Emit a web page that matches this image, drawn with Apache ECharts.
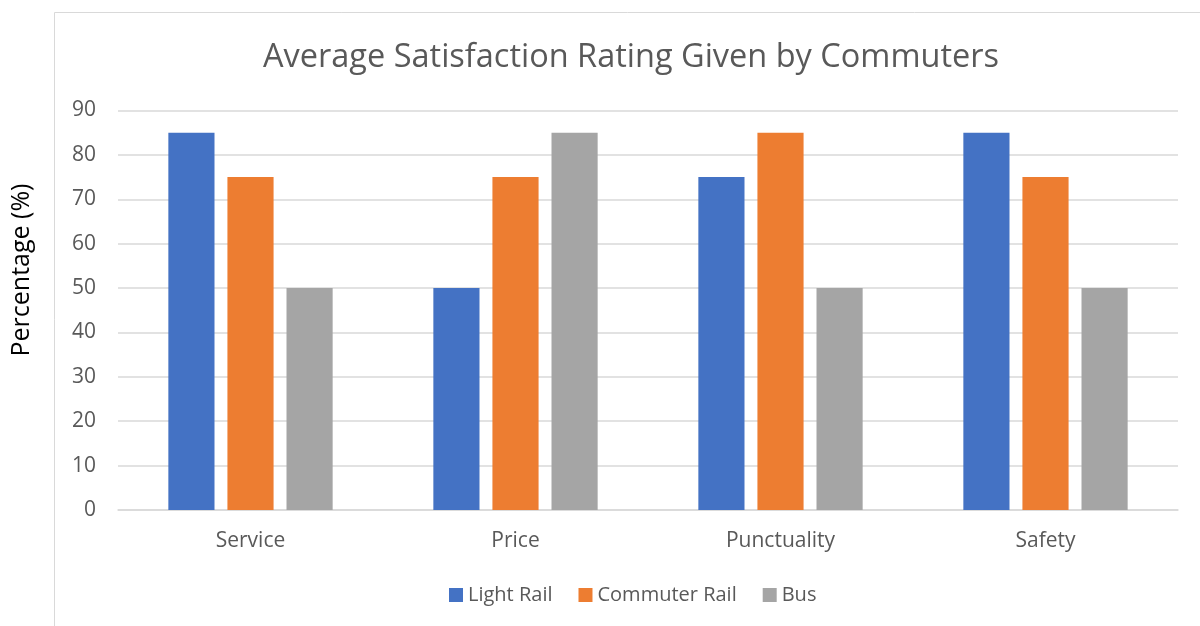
<!DOCTYPE html>
<html><head><meta charset="utf-8">
<script src="https://cdn.jsdelivr.net/npm/echarts@6/dist/echarts.min.js"></script>
<style>html,body{margin:0;padding:0;background:#fff}#c{width:1200px;height:626px}</style>
</head><body><div id="c"></div>
<script>
var categories = ['Service', 'Price', 'Punctuality', 'Safety'];
var lightRail = [85, 50, 75, 85];
var commuterRail = [75, 75, 85, 75];
var bus = [50, 85, 50, 50];
var seriesNames = ['Light Rail', 'Commuter Rail', 'Bus'];
var colors = ['#4472C4', '#ED7D31', '#A5A5A5'];
var font = '"Open Sans", "Noto Sans", sans-serif';
var chart = echarts.init(document.getElementById('c'), null, {renderer: 'canvas'});
function s(name, data, i) {
  return {name: name, type: 'bar', data: data, itemStyle: {color: colors[i]},
    barGap: '28%', barCategoryGap: '38%'};
}
chart.setOption({
  animation: false,
  graphic: [
    {type: 'rect', shape: {x: 54.5, y: 12.5, width: 1200, height: 700},
      style: {fill: 'none', stroke: '#d9d9d9', lineWidth: 1}, silent: true},
    {type: 'text', x: 22, y: 270, rotation: Math.PI / 2,
      style: {text: 'Percentage (%)', fontFamily: font, fontSize: 25, fill: '#000',
        textAlign: 'center', textVerticalAlign: 'middle'}, silent: true}
  ],
  title: {text: 'Average Satisfaction Rating Given by Commuters', left: 630, textAlign: 'center', top: 36,
    textStyle: {fontFamily: font, fontSize: 32.5, fontWeight: 'normal', color: '#595959'}},
  legend: {data: seriesNames, bottom: 16, left: 444, itemWidth: 14, itemHeight: 14, itemGap: 26,
    icon: 'rect', textStyle: {fontFamily: font, fontSize: 20, color: '#595959'}},
  grid: {left: 118, right: 22, top: 110.5, bottom: 116},
  xAxis: {type: 'category', data: categories,
    axisLine: {lineStyle: {color: '#d9d9d9', width: 1.5}}, axisTick: {show: false},
    axisLabel: {fontFamily: font, fontSize: 21, color: '#595959', margin: 21}},
  yAxis: {type: 'value', min: 0, max: 90, interval: 10,
    axisLine: {show: false}, axisTick: {show: false},
    splitLine: {lineStyle: {color: '#d9d9d9', width: 1.5}},
    axisLabel: {fontFamily: font, fontSize: 21, color: '#595959', margin: 22}},
  series: [s(seriesNames[0], lightRail, 0), s(seriesNames[1], commuterRail, 1), s(seriesNames[2], bus, 2)]
});
chart.setOption({title: {left: 626}});
</script></body></html>
